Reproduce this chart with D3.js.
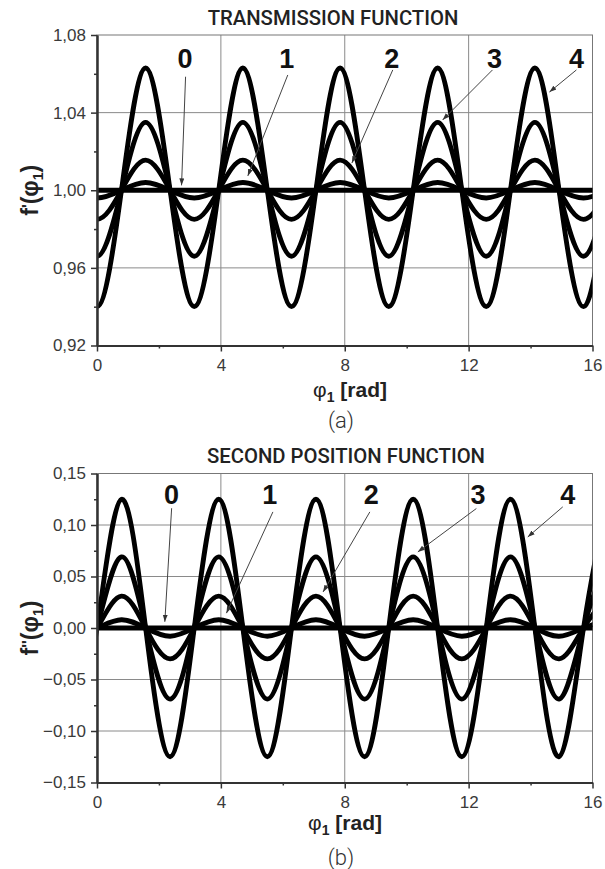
<!DOCTYPE html>
<html>
<head>
<meta charset="utf-8">
<script src="https://cdn.jsdelivr.net/npm/d3@7/dist/d3.min.js"></script>
<style>
  html, body { margin: 0; padding: 0; background: #fff; }
  svg { display: block; }
</style>
</head>
<body>
<div id="chart"></div>
<script>
// knot positions along phi (quarter periods)
const phiKnots = [-0.79, 0, 0.79, 1.57, 2.36, 3.14, 3.93, 4.71, 5.5, 6.28, 7.07, 7.85,
  8.64, 9.42, 10.21, 11.0, 11.78, 12.57, 13.35, 14.14, 14.92, 15.71, 16.49];

// transmission function f'(phi) for curves 0..4
const trans0 = [1, 1, 1, 1, 1, 1, 1, 1, 1, 1, 1, 1, 1, 1, 1, 1, 1, 1, 1, 1, 1, 1, 1];
const trans1 = [1, .996, 1, 1.004, 1, .996, 1, 1.004, 1, .996, 1, 1.004, 1, .996, 1, 1.004, 1, .996, 1, 1.004, 1, .996, 1];
const trans2 = [1, .985, 1, 1.0155, 1, .985, 1, 1.0155, 1, .985, 1, 1.0155, 1, .985, 1, 1.0155, 1, .985, 1, 1.0155, 1, .985, 1];
const trans3 = [1, .966, 1, 1.035, 1, .966, 1, 1.035, 1, .966, 1, 1.035, 1, .966, 1, 1.035, 1, .966, 1, 1.035, 1, .966, 1];
const trans4 = [1, .940, 1, 1.063, 1, .940, 1, 1.063, 1, .940, 1, 1.063, 1, .940, 1, 1.063, 1, .940, 1, 1.063, 1, .940, 1];

// second position function f''(phi) for curves 0..4
const second0 = [0, 0, 0, 0, 0, 0, 0, 0, 0, 0, 0, 0, 0, 0, 0, 0, 0, 0, 0, 0, 0, 0, 0];
const second1 = [-.008, 0, .008, 0, -.008, 0, .008, 0, -.008, 0, .008, 0, -.008, 0, .008, 0, -.008, 0, .008, 0, -.008, 0, .008];
const second2 = [-.030, 0, .031, 0, -.030, 0, .031, 0, -.030, 0, .031, 0, -.030, 0, .031, 0, -.030, 0, .031, 0, -.030, 0, .031];
const second3 = [-.069, 0, .069, 0, -.069, 0, .069, 0, -.069, 0, .069, 0, -.069, 0, .069, 0, -.069, 0, .069, 0, -.069, 0, .069];
const second4 = [-.125, 0, .125, 0, -.125, 0, .125, 0, -.125, 0, .125, 0, -.125, 0, .125, 0, -.125, 0, .125, 0, -.125, 0, .125];

const xTicks = [0, 4, 8, 12, 16];
const xMinor = [2, 6, 10, 14];
const transTicks = [0.92, 0.96, 1.00, 1.04, 1.08];
const transMinor = [0.94, 0.98, 1.02, 1.06];
const secondTicks = [-0.15, -0.10, -0.05, 0.00, 0.05, 0.10, 0.15];
const secondMinor = [-0.125, -0.075, -0.025, 0.025, 0.075, 0.125];

// curve labels: [label, labelPhi, labelVal, startPhi, startVal, tipPhi, tipVal]
const transLabels = [
  ["0", 2.84, 1.0682, 2.86, 1.0585, 2.73, 1.0025],
  ["1", 6.13, 1.0682, 6.16, 1.0594, 4.87, 1.0074],
  ["2", 9.52, 1.0682, 9.55, 1.062, 8.23, 1.014],
  ["3", 12.84, 1.0682, 12.77, 1.062, 11.16, 1.0362],
  ["4", 15.48, 1.0682, 15.48, 1.062, 14.61, 1.0506]
];
const secondLabels = [
  ["0", 2.41, 0.130, 2.41, 0.1163, 2.19, 0.006],
  ["1", 5.58, 0.130, 5.68, 0.1127, 4.18, 0.0144],
  ["2", 8.86, 0.130, 8.81, 0.1127, 7.30, 0.035],
  ["3", 12.30, 0.130, 12.25, 0.116, 10.36, 0.0739],
  ["4", 15.20, 0.130, 15.04, 0.1176, 13.91, 0.0884]
];

const W = 605, H = 869;
const sans = "'Liberation Sans', Arial, sans-serif";
const headFont = "Roboto, 'Noto Sans', sans-serif";

const svg = d3.select("#chart").append("svg")
  .attr("width", W).attr("height", H)
  .style("background", "#fff");

// arrow head
svg.append("defs").append("marker")
  .attr("id", "arrow")
  .attr("viewBox", "0 0 10 10")
  .attr("refX", 10).attr("refY", 5)
  .attr("markerWidth", 7).attr("markerHeight", 7)
  .attr("markerUnits", "userSpaceOnUse")
  .attr("orient", "auto")
  .append("path")
  .attr("d", "M0,1.5L10,5L0,8.5z")
  .attr("fill", "#333");

const fmt = d => d3.format(".2f")(d).replace(".", ",");

function drawPanel(cfg) {
  const x = d3.scaleLinear().domain([0, 16]).range([97, 592.5]);
  const y = d3.scaleLinear().domain(cfg.domain).range([cfg.bottom, cfg.top]);
  const g = svg.append("g");

  // title
  g.append("text")
    .attr("x", cfg.titleX).attr("y", cfg.titleY)
    .attr("text-anchor", "middle")
    .attr("font-family", headFont).attr("font-weight", 500)
    .attr("font-size", 20.3).attr("fill", "#222")
    .text(cfg.title);

  // grid
  g.append("g").selectAll("line").data(xTicks.slice(1, -1)).join("line")
    .attr("x1", d => x(d)).attr("x2", d => x(d))
    .attr("y1", cfg.top).attr("y2", cfg.bottom)
    .attr("stroke", "#8a8a8a").attr("stroke-width", 1);
  g.append("g").selectAll("line").data(cfg.ticks.slice(1, -1)).join("line")
    .attr("x1", x(0)).attr("x2", x(16))
    .attr("y1", d => y(d)).attr("y2", d => y(d))
    .attr("stroke", "#8a8a8a").attr("stroke-width", 1);

  // frame (top / right)
  g.append("rect")
    .attr("x", x(0)).attr("y", cfg.top)
    .attr("width", x(16) - x(0)).attr("height", cfg.bottom - cfg.top)
    .attr("fill", "none").attr("stroke", "#777").attr("stroke-width", 1);

  // curves
  const clipId = "clip-" + cfg.id;
  svg.select("defs").append("clipPath").attr("id", clipId)
    .append("rect")
    .attr("x", x(0)).attr("y", cfg.top)
    .attr("width", x(16) - x(0)).attr("height", cfg.bottom - cfg.top);

  const line = d3.line()
    .x((d, i) => x(phiKnots[i]))
    .y(d => y(d))
    .curve(d3.curveNatural);

  g.append("g").attr("clip-path", `url(#${clipId})`)
    .selectAll("path").data(cfg.series).join("path")
    .attr("d", d => line(d))
    .attr("fill", "none")
    .attr("stroke", "#000")
    .attr("stroke-width", 4.8)
    .attr("stroke-linejoin", "round");

  // axes
  const yAxis = g.append("g").attr("transform", `translate(${x(0)},0)`)
    .call(d3.axisLeft(y).tickValues(cfg.ticks).tickFormat(fmt)
      .tickSize(6).tickSizeOuter(0).tickPadding(5));
  const yMinor = g.append("g").attr("transform", `translate(${x(0)},0)`)
    .call(d3.axisLeft(y).tickValues(cfg.minor).tickFormat("")
      .tickSize(3).tickSizeOuter(0));
  const xAxis = g.append("g").attr("transform", `translate(0,${cfg.bottom})`)
    .call(d3.axisBottom(x).tickValues(xTicks).tickFormat(d3.format("d"))
      .tickSize(6).tickSizeOuter(0).tickPadding(7));
  const xMinorAx = g.append("g").attr("transform", `translate(0,${cfg.bottom})`)
    .call(d3.axisBottom(x).tickValues(xMinor).tickFormat("")
      .tickSize(3).tickSizeOuter(0));

  [yAxis, yMinor, xAxis, xMinorAx].forEach(a => {
    a.select(".domain").attr("stroke", "#333").attr("stroke-width", 2);
    a.selectAll(".tick line").attr("stroke", "#333").attr("stroke-width", 1.5);
    a.selectAll("text")
      .attr("font-family", sans).attr("font-size", 17).attr("fill", "#3a3a3a");
  });

  // axis titles
  const xl = g.append("text")
    .attr("x", cfg.xLabelX).attr("y", cfg.xLabelY)
    .attr("text-anchor", "middle")
    .attr("font-family", sans).attr("font-size", 21).attr("fill", "#222");
  xl.append("tspan").text("φ");
  xl.append("tspan").attr("font-size", 14).attr("font-weight", "bold")
    .attr("dy", 5).text("1");
  xl.append("tspan").attr("font-weight", "bold").attr("dy", -5).text(" [rad]");

  const yMid = (cfg.top + cfg.bottom) / 2;
  const yl = g.append("text")
    .attr("transform", `translate(38,${yMid}) rotate(-90)`)
    .attr("text-anchor", "middle")
    .attr("font-family", sans).attr("font-size", 23)
    .attr("font-weight", "bold").attr("fill", "#222");
  yl.append("tspan").text("f");
  yl.append("tspan").attr("dy", -4).attr("font-size", 16).text(cfg.prime);
  yl.append("tspan").attr("dy", 4).text("(φ");
  yl.append("tspan").attr("font-size", 14).attr("dy", 5).text("1");
  yl.append("tspan").attr("dy", -5).text(")");

  // curve numbers and arrows
  const ann = g.append("g");
  ann.selectAll("line").data(cfg.labels).join("line")
    .attr("x1", d => x(d[3])).attr("y1", d => y(d[4]))
    .attr("x2", d => x(d[5])).attr("y2", d => y(d[6]))
    .attr("stroke", "#444").attr("stroke-width", 1)
    .attr("marker-end", "url(#arrow)");
  ann.selectAll("text").data(cfg.labels).join("text")
    .attr("x", d => x(d[1])).attr("y", d => y(d[2]))
    .attr("dy", "0.36em")
    .attr("text-anchor", "middle")
    .attr("font-family", sans).attr("font-weight", "bold")
    .attr("font-size", 27).attr("fill", "#111")
    .text(d => d[0]);

  // sub-caption
  g.append("text")
    .attr("x", 341).attr("y", cfg.capY)
    .attr("text-anchor", "middle")
    .attr("font-family", headFont).attr("font-weight", 300)
    .attr("font-size", 22).attr("fill", "#333")
    .text(cfg.caption);
}

drawPanel({
  id: "a", title: "TRANSMISSION FUNCTION", titleX: 333, titleY: 25,
  domain: [0.92, 1.08], top: 35, bottom: 345.5,
  ticks: transTicks, minor: transMinor,
  series: [trans0, trans1, trans2, trans3, trans4],
  labels: transLabels, prime: "'",
  xLabelX: 350, xLabelY: 397, capY: 428, caption: "(a)"
});

drawPanel({
  id: "b", title: "SECOND POSITION FUNCTION", titleX: 346, titleY: 463,
  domain: [-0.15, 0.15], top: 473.5, bottom: 782.5,
  ticks: secondTicks, minor: secondMinor,
  series: [second0, second1, second2, second3, second4],
  labels: secondLabels, prime: "''",
  xLabelX: 345, xLabelY: 830, capY: 865, caption: "(b)"
});
</script>
</body>
</html>
